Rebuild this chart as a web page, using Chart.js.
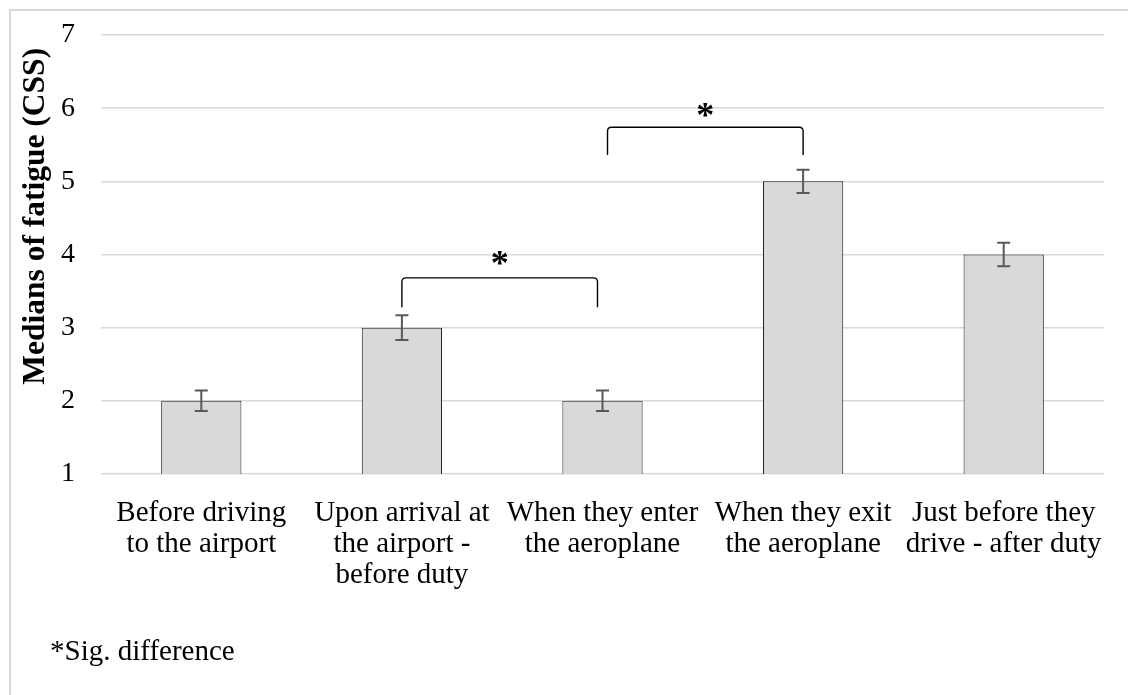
<!DOCTYPE html>
<html>
<head>
<meta charset="utf-8">
<script src="https://cdn.jsdelivr.net/npm/chart.js@4.4.1/dist/chart.umd.min.js"></script>
<style>
  html, body { margin: 0; padding: 0; background: #ffffff; }
  #wrap { position: relative; width: 1128px; height: 695px; overflow: hidden; background: #fff; }
  #frame { position: absolute; left: 9px; top: 9px; width: 1200px; height: 800px; border: 2px solid #d9d9d9; box-sizing: border-box; }
  #c { position: absolute; left: 0; top: 0; }
  #note { position: absolute; left: 50px; top: 636px; font-family: "Liberation Serif", "Times New Roman", serif; font-size: 29px; line-height: 29px; color: #000; white-space: nowrap; }
</style>
</head>
<body>
<div id="wrap">
  <div id="frame"></div>
  <canvas id="c" width="1128" height="695"></canvas>
  <div id="note">*Sig. difference</div>
</div>
<script>
// ---- data ----
const categories = [
  ['Before driving', 'to the airport'],
  ['Upon arrival at', 'the airport -', 'before duty'],
  ['When they enter', 'the aeroplane'],
  ['When they exit', 'the aeroplane'],
  ['Just before they', 'drive - after duty']
];
const medians = [2, 3, 2, 5, 4];
const errors = [0.14, 0.17, 0.14, 0.16, 0.16];
const yTicks = [1, 2, 3, 4, 5, 6, 7];
const yTitle = 'Medians of fatigue (CSS)';
// significance brackets (category index positions and value levels)
const bracketStart = [1, 2.025];
const bracketEnd = [1.975, 3];
const bracketTop = [3.68, 5.74];
const bracketBottom = [3.28, 5.36];
const bracketStarLevel = [3.93, 5.95];
const bracketLabel = ['*', '*'];

const serif = '"Liberation Serif", "Times New Roman", serif';

const errorBarPlugin = {
  id: 'errorBars',
  afterDatasetsDraw(chart) {
    const ctx = chart.ctx;
    const y = chart.scales.y;
    const meta = chart.getDatasetMeta(0);
    ctx.save();
    ctx.strokeStyle = '#595959';
    ctx.lineWidth = 2;
    meta.data.forEach((bar, i) => {
      const x = bar.x;
      const yt = y.getPixelForValue(medians[i] + errors[i]);
      const yb = y.getPixelForValue(medians[i] - errors[i]);
      ctx.beginPath();
      ctx.moveTo(x, yt); ctx.lineTo(x, yb);
      ctx.moveTo(x - 6.5, yt); ctx.lineTo(x + 6.5, yt);
      ctx.moveTo(x - 6.5, yb); ctx.lineTo(x + 6.5, yb);
      ctx.stroke();
    });
    ctx.restore();
  }
};

const bracketPlugin = {
  id: 'brackets',
  afterDatasetsDraw(chart) {
    const ctx = chart.ctx;
    const xs = chart.scales.x, ys = chart.scales.y;
    ctx.save();
    ctx.strokeStyle = '#000';
    ctx.lineWidth = 1.4;
    for (let i = 0; i < bracketStart.length; i++) {
      const x1 = xs.getPixelForValue(bracketStart[i]);
      const x2 = xs.getPixelForValue(bracketEnd[i]);
      const yt = ys.getPixelForValue(bracketTop[i]);
      const yb = ys.getPixelForValue(bracketBottom[i]);
      const r = 4;
      ctx.beginPath();
      ctx.moveTo(x1, yb);
      ctx.lineTo(x1, yt + r);
      ctx.quadraticCurveTo(x1, yt, x1 + r, yt);
      ctx.lineTo(x2 - r, yt);
      ctx.quadraticCurveTo(x2, yt, x2, yt + r);
      ctx.lineTo(x2, yb);
      ctx.stroke();
      ctx.fillStyle = '#000';
      ctx.font = 'bold 36px ' + serif;
      ctx.textAlign = 'center';
      ctx.textBaseline = 'middle';
      const sy = ys.getPixelForValue(bracketStarLevel[i]);
      ctx.fillText(bracketLabel[i], (x1 + x2) / 2, sy + 6);
    }
    ctx.restore();
  }
};

const yTitlePlugin = {
  id: 'yTitle',
  afterDraw(chart) {
    const ctx = chart.ctx;
    const area = chart.chartArea;
    ctx.save();
    ctx.translate(36, area.top + (area.bottom - area.top) * 0.413);
    ctx.rotate(-Math.PI / 2);
    ctx.fillStyle = '#000';
    ctx.font = 'bold 31.5px ' + serif;
    ctx.textAlign = 'center';
    ctx.textBaseline = 'middle';
    ctx.fillText(yTitle, 0, 0);
    ctx.restore();
  }
};

new Chart(document.getElementById('c'), {
  type: 'bar',
  data: {
    labels: categories,
    datasets: [{
      data: medians,
      backgroundColor: '#d9d9d9',
      borderColor: '#1f1f1f',
      borderWidth: 1,
      barPercentage: 0.4,
      categoryPercentage: 1.0
    }]
  },
  options: {
    responsive: false,
    animation: false,
    layout: { padding: { left: 19, right: 24, top: 35, bottom: 101 } },
    plugins: { legend: { display: false }, tooltip: { enabled: false } },
    scales: {
      x: {
        grid: { display: false, drawTicks: false, tickLength: 0 },
        border: { display: false },
        ticks: {
          color: '#000',
          font: { family: serif, size: 29, lineHeight: 1.07 },
          padding: 24,
          maxRotation: 0,
          autoSkip: false
        },
        afterFit(scale) { scale.height = 120; scale.paddingLeft = 0; scale.paddingRight = 0; }
      },
      y: {
        min: 1, max: 7,
        afterBuildTicks(scale) { scale.ticks = yTicks.map(v => ({ value: v })); },
        grid: { color: '#d9d9d9', lineWidth: 1.5, drawTicks: false, tickLength: 0 },
        border: { display: false },
        ticks: {
          color: '#000',
          font: { family: serif, size: 28 },
          padding: 26
        },
        title: { display: false },
        afterFit(scale) { scale.width = 82; scale.paddingTop = 0; scale.paddingBottom = 0; }
      }
    }
  },
  plugins: [errorBarPlugin, bracketPlugin, yTitlePlugin]
});
</script>
</body>
</html>
